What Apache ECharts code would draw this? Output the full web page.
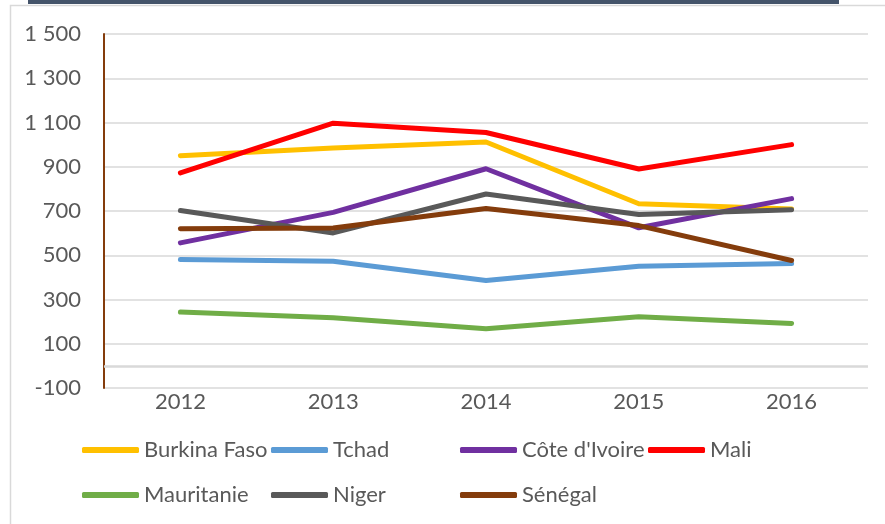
<!DOCTYPE html>
<html>
<head>
<meta charset="utf-8">
<script src="https://cdn.jsdelivr.net/npm/echarts@6/dist/echarts.min.js"></script>
<style>
html,body{margin:0;padding:0;background:#fff;}
#chart{width:885px;height:524px;}
</style>
</head>
<body>
<div id="chart"></div>
<script>
const years = ['2012', '2013', '2014', '2015', '2016'];
const seriesNames = ['Burkina Faso', 'Tchad', "Côte d'Ivoire", 'Mali', 'Mauritanie', 'Niger', 'Sénégal'];
const burkina = [950, 985, 1012, 733, 709];
const tchad = [481, 473, 386, 450, 463];
const cote = [556, 694, 891, 624, 756];
const mali = [872, 1097, 1055, 890, 1000];
const mauritanie = [243, 218, 168, 222, 192];
const niger = [702, 601, 777, 684, 706];
const senegal = [620, 623, 711, 634, 476];
const yTicks = { min: -100, max: 1500, interval: 200 };

const values = [burkina, tchad, cote, mali, mauritanie, niger, senegal];
const colors = ['#FFC000', '#5B9BD5', '#7030A0', '#FF0000', '#70AD47', '#595959', '#843C0C'];
const legendPos = [[82, 439], [271, 439], [460, 439], [648, 439], [82, 484], [271, 484], [460, 484]];
const FONT = 'Lato';

const chart = echarts.init(document.getElementById('chart'), null, { renderer: 'canvas' });

const series = seriesNames.map((name, i) => {
  const s = {
    name: name,
    type: 'line',
    data: values[i],
    symbol: 'none',
    showSymbol: false,
    smooth: false,
    lineStyle: { color: colors[i], width: 5, cap: 'round', join: 'round' },
    itemStyle: { color: colors[i] },
    emphasis: { disabled: true },
    z: 3 + i
  };
  if (i === 0) {
    s.markLine = {
      silent: true,
      symbol: 'none',
      label: { show: false },
      lineStyle: { color: '#D9D9D9', width: 2.5, type: 'solid' },
      data: [{ yAxis: 0 }],
      z: 1
    };
  }
  return s;
});

const legends = seriesNames.map((name, i) => ({
  data: [name],
  left: legendPos[i][0],
  top: legendPos[i][1],
  padding: 0,
  icon: 'roundRect',
  itemWidth: 57,
  itemHeight: 6,
  textStyle: { color: '#595959', fontSize: 22, fontFamily: FONT },
  selectedMode: false
}));

const option = {
  animation: false,
  backgroundColor: '#ffffff',
  graphic: [
    { type: 'rect', shape: { x: 10.5, y: 5.5, width: 900, height: 600 }, style: { fill: 'none', stroke: '#D9D9D9', lineWidth: 1.5 }, z: 0 },
    { type: 'rect', shape: { x: 28, y: 0, width: 811, height: 4 }, style: { fill: '#44546A' }, z: 0 }
  ],
  grid: { left: 104, right: 17, top: 34, bottom: 136, containLabel: false },
  legend: legends,
  xAxis: {
    type: 'category',
    data: years,
    boundaryGap: true,
    axisLine: { show: false },
    axisTick: { show: false },
    axisLabel: { color: '#595959', fontSize: 22, fontFamily: FONT, margin: 3 },
    splitLine: { show: false }
  },
  yAxis: {
    type: 'value',
    min: yTicks.min,
    max: yTicks.max,
    interval: yTicks.interval,
    axisLine: { show: true, lineStyle: { color: '#843C0C', width: 2 } },
    axisTick: { show: false },
    axisLabel: {
      color: '#595959', fontSize: 22, fontFamily: FONT, margin: 23,
      formatter: v => String(v).replace(/\B(?=(\d{3})+(?!\d))/g, ' ')
    },
    splitLine: { show: true, lineStyle: { color: '#D9D9D9', width: 1.5 } }
  },
  series: series
};
chart.setOption(option);
</script>
</body>
</html>
